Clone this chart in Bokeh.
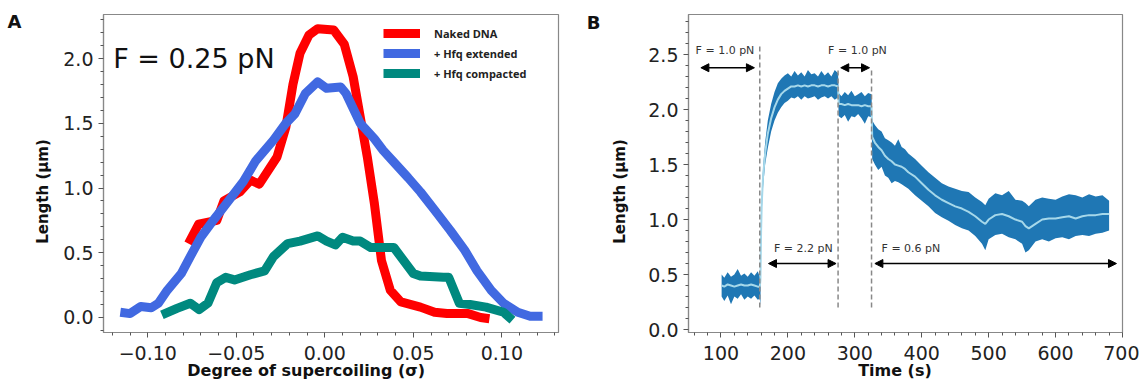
from bokeh.plotting import figure
from bokeh.layouts import row
from bokeh.models import (FixedTicker, Label, Arrow, NormalHead, Legend, LegendItem,
                          Range1d, LinearAxis)
from bokeh.embed import file_html
from bokeh.resources import INLINE

# ---------------- Panel A data ----------------
naked_sigma = [-0.077, -0.0713, -0.061, -0.057, -0.048, -0.042, -0.037, -0.027, -0.022, -0.018,
               -0.014, -0.009, -0.004, 0.005, 0.011, 0.016, 0.020, 0.024, 0.028, 0.032, 0.037,
               0.043, 0.054, 0.062, 0.069, 0.081, 0.088, 0.093]
naked_len = [0.57, 0.72, 0.75, 0.90, 0.97, 1.06, 1.03, 1.24, 1.47, 1.80,
             2.04, 2.18, 2.23, 2.22, 2.11, 1.86, 1.55, 1.24, 0.88, 0.44, 0.21,
             0.12, 0.08, 0.04, 0.03, 0.03, 0.00, -0.01]

ext_sigma = [-0.1155, -0.110, -0.104, -0.098, -0.094, -0.089, -0.081, -0.076, -0.070, -0.063,
             -0.055, -0.046, -0.039, -0.029, -0.022, -0.017, -0.011, -0.004, 0.001, 0.009,
             0.012, 0.020, 0.028, 0.033, 0.039, 0.047, 0.054, 0.062, 0.071, 0.079, 0.086,
             0.094, 0.101, 0.109, 0.116, 0.123]
ext_len = [0.04, 0.03, 0.085, 0.075, 0.11, 0.21, 0.34, 0.47, 0.62, 0.75,
           0.89, 1.05, 1.21, 1.37, 1.50, 1.57, 1.73, 1.82, 1.77, 1.78,
           1.73, 1.50, 1.38, 1.29, 1.20, 1.08, 0.97, 0.83, 0.67, 0.52, 0.36,
           0.21, 0.11, 0.04, 0.01, 0.01]

comp_sigma = [-0.092, -0.0835, -0.076, -0.071, -0.066, -0.061, -0.056, -0.051, -0.042, -0.034,
              -0.029, -0.021, -0.014, -0.004, 0.001, 0.006, 0.010, 0.016, 0.020, 0.026,
              0.039, 0.050, 0.054, 0.067, 0.070, 0.076, 0.082, 0.091, 0.101, 0.106]
comp_len = [0.02, 0.07, 0.11, 0.06, 0.11, 0.27, 0.31, 0.29, 0.33, 0.36,
            0.47, 0.57, 0.59, 0.63, 0.59, 0.56, 0.62, 0.59, 0.59, 0.54,
            0.54, 0.34, 0.32, 0.31, 0.31, 0.11, 0.10, 0.08, 0.04, -0.02]

series_names = ["Naked DNA", "+ Hfq extended", "+ Hfq compacted"]
series_colors = ["#ff0000", "#4169e1", "#00897f"]

a_xticks = [-0.10, -0.05, 0.0, 0.05, 0.10]
a_xtick_labels = ["\u22120.10", "\u22120.05", "0.00", "0.05", "0.10"]
a_xminor = [-0.12, -0.11, -0.09, -0.08, -0.07, -0.06, -0.04, -0.03, -0.02, -0.01,
            0.01, 0.02, 0.03, 0.04, 0.06, 0.07, 0.08, 0.09, 0.11, 0.12, 0.13]
a_yticks = [0.0, 0.5, 1.0, 1.5, 2.0]
a_ytick_labels = ["0.0", "0.5", "1.0", "1.5", "2.0"]
a_yminor = [-0.1, 0.1, 0.2, 0.3, 0.4, 0.6, 0.7, 0.8, 0.9, 1.1, 1.2, 1.3, 1.4,
            1.6, 1.7, 1.8, 1.9, 2.1, 2.2, 2.3]
a_xlabel = "Degree of supercoiling (\u03c3)"
a_ylabel = "Length (\u00b5m)"

# ---------------- Panel B data ----------------
time_s = [101, 105, 110, 115, 120, 125, 130, 135, 140, 145, 150, 155, 158,
          159, 160, 161, 163, 166, 170, 175, 180, 185, 190, 195, 200, 205, 210, 215, 220,
          225, 230, 235, 240, 245, 250, 255, 260, 265, 270, 275,
          276, 280, 285, 290, 295, 300, 305, 310, 315, 320, 325,
          326, 330, 335, 340, 345, 350, 355, 360, 365, 370, 375, 380,
          390, 400, 410, 420, 430, 440, 450, 460, 470, 480, 490,
          495, 500, 510, 520, 530, 540, 550, 555, 560, 570, 580, 590, 600, 610, 620,
          630, 640, 650, 660, 670, 680]
len_mean = [0.40, 0.39, 0.41, 0.40, 0.39, 0.40, 0.41, 0.40, 0.40, 0.41, 0.40, 0.39, 0.39,
            0.45, 0.90, 1.15, 1.40, 1.60, 1.78, 1.92, 2.02, 2.09, 2.14, 2.17, 2.19, 2.21, 2.21,
            2.22, 2.21, 2.22, 2.21, 2.22, 2.22, 2.21, 2.22, 2.22, 2.21, 2.22, 2.22, 2.21,
            2.05, 2.05, 2.04, 2.05, 2.04, 2.04, 2.04, 2.03, 2.04, 2.03, 2.03,
            1.75, 1.70, 1.66, 1.63, 1.58, 1.55, 1.53, 1.50, 1.49, 1.48, 1.46, 1.43,
            1.39, 1.33, 1.27, 1.22, 1.18, 1.15, 1.12, 1.10, 1.07, 1.03, 0.98,
            0.96, 1.00, 1.04, 1.05, 1.03, 1.00, 0.98, 0.94, 0.92, 0.96, 1.00, 1.01, 1.01,
            1.02, 1.03, 1.01, 1.03, 1.04, 1.04, 1.05, 1.05]
len_upper = [0.50, 0.47, 0.52, 0.48, 0.50, 0.55, 0.49, 0.51, 0.48, 0.52, 0.49, 0.53, 0.48,
             0.50, 0.95, 1.22, 1.48, 1.70, 1.90, 2.05, 2.16, 2.24, 2.28, 2.31, 2.33, 2.30, 2.35,
             2.31, 2.34, 2.30, 2.36, 2.32, 2.33, 2.30, 2.35, 2.31, 2.34, 2.30, 2.36, 2.33,
             2.15, 2.12, 2.16, 2.13, 2.17, 2.12, 2.14, 2.16, 2.12, 2.15, 2.14,
             1.90, 1.86, 1.82, 1.80, 1.74, 1.72, 1.70, 1.67, 1.73, 1.66, 1.64, 1.60,
             1.55, 1.49, 1.43, 1.38, 1.33, 1.30, 1.28, 1.26, 1.25, 1.20, 1.16,
             1.13, 1.19, 1.24, 1.22, 1.26, 1.18, 1.17, 1.15, 1.12, 1.18, 1.20, 1.19, 1.18,
             1.21, 1.23, 1.22, 1.20, 1.23, 1.21, 1.22, 1.17]
len_lower = [0.30, 0.26, 0.31, 0.23, 0.30, 0.28, 0.32, 0.27, 0.30, 0.28, 0.31, 0.27, 0.28,
             0.22, 0.85, 1.08, 1.30, 1.50, 1.65, 1.80, 1.90, 1.97, 2.02, 2.06, 2.08, 2.11, 2.10,
             2.12, 2.09, 2.12, 2.10, 2.11, 2.12, 2.09, 2.11, 2.12, 2.10, 2.12, 2.09, 2.11,
             1.94, 1.92, 1.95, 1.89, 1.94, 1.93, 1.96, 1.92, 1.87, 1.94, 1.93,
             1.55, 1.50, 1.45, 1.48, 1.40, 1.38, 1.33, 1.35, 1.34, 1.32, 1.30, 1.28,
             1.22, 1.17, 1.12, 1.06, 1.02, 0.99, 0.95, 0.92, 0.90, 0.85, 0.78,
             0.72, 0.82, 0.86, 0.87, 0.84, 0.82, 0.78, 0.70, 0.72, 0.80, 0.82, 0.80, 0.83,
             0.84, 0.82, 0.85, 0.86, 0.85, 0.87, 0.88, 0.90]

event_times = [158, 275, 325]
event_tops = [2.60, 2.38, 2.38]
event_bottom = 0.20

force_labels = ["F = 1.0 pN", "F = 2.2 pN", "F = 1.0 pN", "F = 0.6 pN"]
force_start = [70, 171, 279, 330]
force_end = [150, 272, 322, 691]
force_arrow_y = [2.38, 0.60, 2.38, 0.60]
force_label_x = [106, 223, 304, 340]
force_label_y = [2.54, 0.74, 2.54, 0.74]
force_label_align = ["center", "center", "center", "left"]

b_xticks = [100, 200, 300, 400, 500, 600, 700]
b_xminor = [60, 80, 120, 140, 160, 180, 220, 240, 260, 280, 320, 340, 360, 380, 420, 440,
            460, 480, 520, 540, 560, 580, 620, 640, 660, 680]
b_yticks = [0.0, 0.5, 1.0, 1.5, 2.0, 2.5]
b_ytick_labels = ["0.0", "0.5", "1.0", "1.5", "2.0", "2.5"]
b_yminor = [0.1, 0.2, 0.3, 0.4, 0.6, 0.7, 0.8, 0.9, 1.1, 1.2, 1.3, 1.4, 1.6, 1.7, 1.8,
            1.9, 2.1, 2.2, 2.3, 2.4, 2.6, 2.7, 2.8]
b_xlabel = "Time (s)"
b_ylabel = "Length (\u00b5m)"

FONT = "DejaVu Sans"
SPINE = "#888888"


def style_axes(p, xticks, xminor, xlabels, yticks, yminor, ylabels):
    p.xaxis.ticker = FixedTicker(ticks=xticks, minor_ticks=xminor)
    p.yaxis.ticker = FixedTicker(ticks=yticks, minor_ticks=yminor)
    if xlabels is not None:
        p.xaxis.major_label_overrides = {t: s for t, s in zip(xticks, xlabels)}
    if ylabels is not None:
        p.yaxis.major_label_overrides = {t: s for t, s in zip(yticks, ylabels)}
    for ax in (p.xaxis[0], p.yaxis[0]):
        ax.axis_line_color = SPINE
        ax.axis_line_width = 1.2
        ax.major_tick_line_color = "#555555"
        ax.minor_tick_line_color = "#555555"
        ax.major_tick_out = 5
        ax.major_tick_in = 0
        ax.minor_tick_out = 3
        ax.minor_tick_in = 0
        ax.major_label_text_font = FONT
        ax.major_label_text_font_size = "19px"
        ax.major_label_text_color = "#222222"
        ax.major_label_text_line_height = 1.0
        ax.major_label_standoff = 5
        ax.axis_label_standoff = 0
    p.xaxis[0].major_label_standoff = 8
    p.outline_line_color = SPINE
    p.outline_line_width = 1.2
    p.grid.visible = False
    p.background_fill_color = "white"
    p.border_fill_color = "white"


def text_axis(tick, text, size, standoff, orientation="horizontal"):
    ax = LinearAxis(ticker=FixedTicker(ticks=[tick], minor_ticks=[]),
                    major_label_overrides={tick: text},
                    axis_line_alpha=0, major_tick_line_alpha=0, minor_tick_line_alpha=0,
                    major_tick_out=0, major_tick_in=0, minor_tick_out=0, minor_tick_in=0,
                    major_label_standoff=standoff, major_label_text_font=FONT,
                    major_label_text_font_style="bold",
                    major_label_text_font_size=size, major_label_text_color="#111111",
                    major_label_text_line_height=1.0, axis_label_standoff=0,
                    major_label_orientation=orientation)
    return ax


# ---------------- Panel A ----------------
a_xrange = (-0.125, 0.132)
p1 = figure(width=583, height=382, output_backend="svg", toolbar_location=None,
            x_range=Range1d(*a_xrange), y_range=Range1d(-0.116, 2.34),
            min_border_left=103, min_border_right=25, min_border_top=14, min_border_bottom=0)
style_axes(p1, a_xticks, a_xminor, a_xtick_labels, a_yticks, a_yminor, a_ytick_labels)
p1.add_layout(text_axis(-0.0105, a_xlabel, "16px", -2), "below")
p1.add_layout(text_axis(0.973, a_ylabel, "15px", 8, "parallel"), "left")
p1.add_layout(text_axis(2.286, "A", "18px", 10), "left")

renderers = []
for xs, ys, col in ((naked_sigma, naked_len, series_colors[0]),
                    (ext_sigma, ext_len, series_colors[1]),
                    (comp_sigma, comp_len, series_colors[2])):
    r = p1.line(xs, ys, line_color=col, line_width=9, line_join="round")
    renderers.append(r)

legend = Legend(items=[LegendItem(label=n, renderers=[r]) for n, r in zip(series_names, renderers)],
                location=(280, 249), glyph_width=37, glyph_height=20, label_height=20,
                spacing=0, padding=0, margin=0, label_standoff=14,
                label_text_font="Open Sans", label_text_font_style="bold",
                label_text_font_size="11px", label_text_color="#222222",
                border_line_alpha=0, background_fill_alpha=0)
p1.add_layout(legend)

p1.add_layout(Label(x=-0.1195, y=2.0, text="F = 0.25 pN", text_font=FONT,
                    text_font_size="27px", text_color="#111111", text_baseline="alphabetic"))

# ---------------- Panel B ----------------
b_xrange = (51.5, 700)
p2 = figure(width=556, height=382, output_backend="svg", toolbar_location=None,
            x_range=Range1d(*b_xrange), y_range=Range1d(-0.027, 2.864),
            min_border_left=98, min_border_right=17, min_border_top=14, min_border_bottom=0)
style_axes(p2, b_xticks, b_xminor, None, b_yticks, b_yminor, b_ytick_labels)
p2.add_layout(text_axis(360, b_xlabel, "16px", -2), "below")
p2.add_layout(text_axis(1.255, b_ylabel, "15px", 16, "parallel"), "left")
p2.add_layout(text_axis(2.79, "B", "18px", 8), "left")

p2.varea(x=time_s, y1=len_lower, y2=len_upper, fill_color="#1f77b4")
p2.line(time_s, len_mean, line_color="#a6d8ea", line_width=2)

p2.segment(x0=event_times, y0=[event_bottom] * len(event_times), x1=event_times, y1=event_tops,
           line_color="#888888", line_width=1.5, line_dash="5 3")

for lab, xs, xe, ay, lx, ly, al in zip(force_labels, force_start, force_end, force_arrow_y,
                                       force_label_x, force_label_y, force_label_align):
    p2.add_layout(Arrow(x_start=xs, y_start=ay, x_end=xe, y_end=ay, line_color="black",
                        line_width=1.5,
                        start=NormalHead(size=8, fill_color="black", line_color="black"),
                        end=NormalHead(size=8, fill_color="black", line_color="black")))
    p2.add_layout(Label(x=lx, y=ly, text=lab, text_font=FONT, text_font_size="11px",
                        text_color="#333333", text_align=al, text_baseline="middle"))

layout = row(p1, p2)
open("out.html", "w").write(file_html(layout, INLINE))
